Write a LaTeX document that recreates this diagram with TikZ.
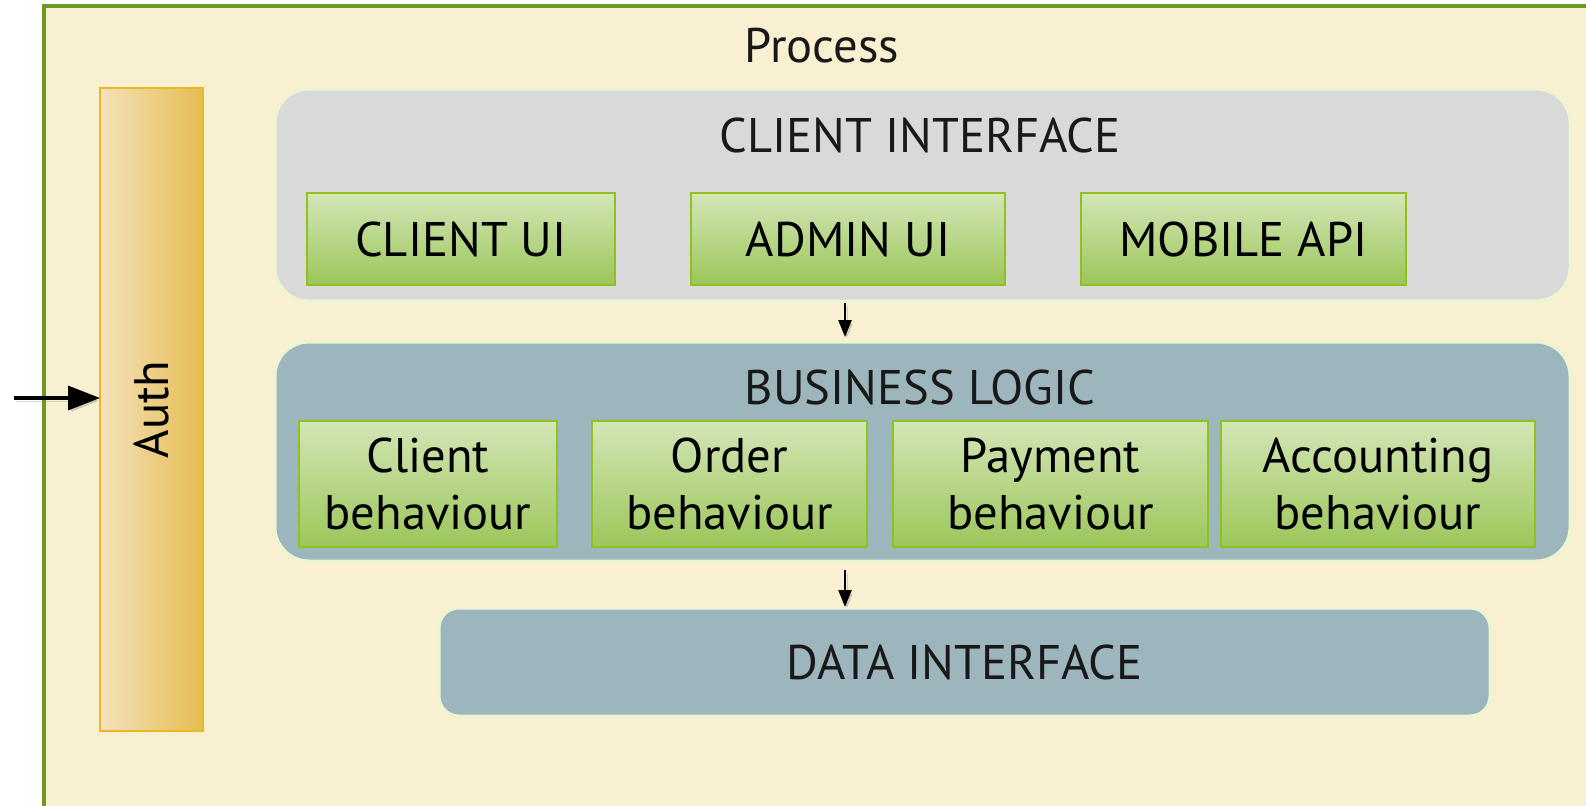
\documentclass[tikz,border=0pt]{standalone}
\usepackage{fontspec}
\setmainfont{PT Sans}
\usetikzlibrary{arrows.meta}
\definecolor{cream}{HTML}{F9F0D2}
\definecolor{framegreen}{HTML}{6F991F}
\definecolor{grp}{HTML}{D9D9D9}
\definecolor{grpedge}{HTML}{EBF5D2}
\definecolor{slate}{HTML}{9DB6BD}
\definecolor{gtop}{HTML}{D3E6B6}
\definecolor{gbot}{HTML}{9CC65A}
\definecolor{gedge}{HTML}{8DC21F}
\definecolor{aleft}{HTML}{F4E1BC}
\definecolor{aright}{HTML}{E5BC50}
\definecolor{aedge}{HTML}{E8B923}
\tikzset{
  group/.style={draw=grpedge, line width=1.5pt, rounded corners=17pt, inner sep=0pt, outer sep=0pt},
  module/.style={draw=gedge, line width=1pt, top color=gtop, bottom color=gbot,
    minimum height=46pt, inner sep=0pt, outer sep=0pt, align=center, text=black},
  bmodule/.style={module, minimum height=63pt},
  heading/.style={text=black!90, inner sep=0pt},
  arrowshadow/.style={preaction={draw=black!50, opacity=0.3, transform canvas={shift={(1pt,-1.5pt)}}}},
  link/.style={arrowshadow, line width=1.2pt, -{Triangle[length=8.5pt,width=6.5pt]}},
  biglink/.style={arrowshadow, line width=1.7pt, -{Triangle[length=16pt,width=12pt]}},
}
\begin{document}
\begin{tikzpicture}[x=0.5pt,y=-0.5pt, font=\fontsize{24.3}{28.5}\selectfont]
\useasboundingbox (0,0) rectangle (1586,805);
\clip (0,0) rectangle (1586,805);
% outer process frame
\node[draw=framegreen, fill=cream, line width=1.6pt, minimum width=790pt, minimum height=420pt,
  inner sep=0pt, outer sep=0pt] (process) at (834,426) {};
\node[heading] (proclabel) at (822,46) {Process};
% Auth
\node[draw=aedge, line width=1pt, minimum width=51.5pt, minimum height=321.5pt,
  left color=aleft, right color=aright, inner sep=0pt, outer sep=0pt] (auth) at (151.5,409.5) {\rotatebox{90}{Auth}};
\coordinate (authin) at (14,398);
\draw[biglink] (authin) -- (authin -| auth.west);
% client interface
\node[group, fill=grp, minimum width=647.5pt, minimum height=106pt] (ci) at (922.5,195) {};
\node[heading] (cilabel) at (920,135) {CLIENT INTERFACE};
\node[module, minimum width=154pt] (clientui) at (461,239) {CLIENT UI};
\node[module, minimum width=157pt] (adminui) at (848,239) {ADMIN UI};
\node[module, minimum width=162.5pt] (mobileapi) at (1243.5,239) {MOBILE API};
% business logic
\node[group, fill=slate, minimum width=647.5pt, minimum height=109.5pt] (bl) at (922.5,451.5) {};
\node[heading] (bllabel) at (920,387) {BUSINESS LOGIC};
\node[bmodule, minimum width=129pt] (clientb) at (428,484) {Client\\behaviour};
\node[bmodule, minimum width=137.5pt] (orderb) at (729.5,484) {Order\\behaviour};
\node[bmodule, minimum width=157.5pt] (payb) at (1050.5,484) {Payment\\behaviour};
\node[bmodule, minimum width=157pt] (accb) at (1378,484) {Accounting\\behaviour};
% data interface
\node[group, fill=slate, rounded corners=10pt, minimum width=525.5pt, minimum height=54pt,
  text=black!90] (di) at (964.5,662) {DATA INTERFACE};
% arrows
\coordinate (ax) at (845,0);
\draw[link, shorten <=1pt, shorten >=2.5pt] (ci.south -| ax) -- (bl.north -| ax);
\draw[link, shorten <=4.5pt, shorten >=0.5pt] (bl.south -| ax) -- (di.north -| ax);
\end{tikzpicture}
\end{document}
